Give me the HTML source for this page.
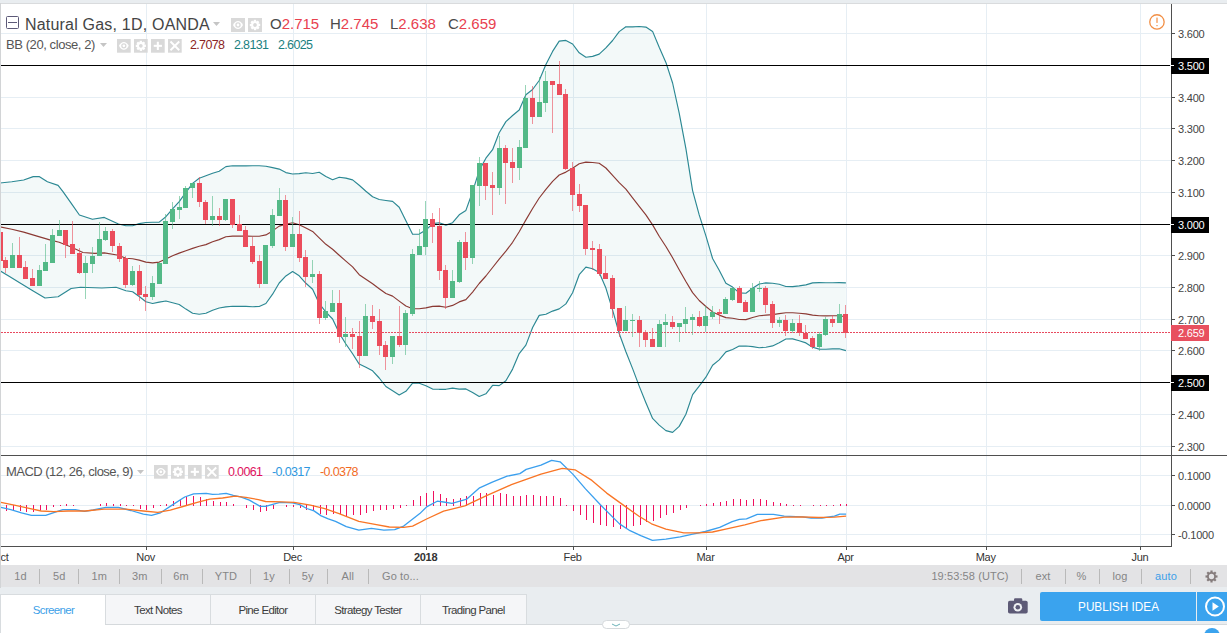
<!DOCTYPE html><html><head><meta charset="utf-8"><style>
*{margin:0;padding:0;box-sizing:border-box}
html,body{width:1227px;height:633px;overflow:hidden;background:#fff;font-family:"Liberation Sans",sans-serif}
.abs{position:absolute}
.pl{position:absolute;left:1178px;font-size:11px;letter-spacing:-0.2px;color:#444;line-height:12px;white-space:nowrap}
.tl{position:absolute;top:550.7px;letter-spacing:-0.3px;font-size:11px;color:#333;line-height:12px;white-space:nowrap;transform:translateX(-50%)}
.lg{position:absolute;white-space:nowrap;line-height:14px}
.ib{position:absolute;width:14px;height:14px;background:#dcdcdc;border-radius:1px}
.tb{position:absolute;top:568.7px;font-size:11px;letter-spacing:0.1px;color:#858585;line-height:14px;white-space:nowrap;transform:translateX(-50%)}
.sep{position:absolute;top:569px;width:1px;height:15px;background:#b9b9b9}
.tab{position:absolute;top:594px;height:30px;background:#f5f6f8;border:1px solid #d8dcdf;border-bottom:none;font-size:11.5px;letter-spacing:-0.1px;letter-spacing:-0.65px;color:#3c3c3c;text-align:center;line-height:30.5px}

</style></head><body>
<div class="abs" style="left:0;top:0;width:1227px;height:3px;background:#e9edf0"></div>
<div class="abs" style="left:0;top:3px;width:1227px;height:1px;background:#d9dbdd"></div>
<svg width="1227" height="566" viewBox="0 0 1227 566" style="position:absolute;left:0;top:0" shape-rendering="auto"><rect x="1" y="33" width="1170" height="1" fill="#e6eef4"/><rect x="1" y="65" width="1170" height="1" fill="#e6eef4"/><rect x="1" y="97" width="1170" height="1" fill="#e6eef4"/><rect x="1" y="128" width="1170" height="1" fill="#e6eef4"/><rect x="1" y="160" width="1170" height="1" fill="#e6eef4"/><rect x="1" y="192" width="1170" height="1" fill="#e6eef4"/><rect x="1" y="224" width="1170" height="1" fill="#e6eef4"/><rect x="1" y="255" width="1170" height="1" fill="#e6eef4"/><rect x="1" y="287" width="1170" height="1" fill="#e6eef4"/><rect x="1" y="319" width="1170" height="1" fill="#e6eef4"/><rect x="1" y="350" width="1170" height="1" fill="#e6eef4"/><rect x="1" y="382" width="1170" height="1" fill="#e6eef4"/><rect x="1" y="414" width="1170" height="1" fill="#e6eef4"/><rect x="1" y="446" width="1170" height="1" fill="#e6eef4"/><rect x="1" y="475" width="1170" height="1" fill="#e6eef4"/><rect x="1" y="505" width="1170" height="1" fill="#e6eef4"/><rect x="1" y="534" width="1170" height="1" fill="#e6eef4"/><rect x="146" y="4" width="1" height="542" fill="#e6eef4"/><rect x="293" y="4" width="1" height="542" fill="#e6eef4"/><rect x="426" y="4" width="1" height="542" fill="#e6eef4"/><rect x="573" y="4" width="1" height="542" fill="#e6eef4"/><rect x="706" y="4" width="1" height="542" fill="#e6eef4"/><rect x="846" y="4" width="1" height="542" fill="#e6eef4"/><rect x="986" y="4" width="1" height="542" fill="#e6eef4"/><rect x="1140" y="4" width="1" height="542" fill="#e6eef4"/><polygon points="0.0,183.0 11.8,181.8 23.7,180.0 33.2,176.6 39.1,176.6 47.4,181.8 58.1,185.4 62.8,191.3 71.1,203.2 79.4,215.0 92.4,219.3 104.3,217.4 118.5,224.0 125.9,225.7 132.6,225.7 139.2,223.6 145.9,222.5 152.6,222.3 159.2,222.1 165.9,216.7 172.6,208.8 179.2,201.6 185.9,192.3 192.6,183.4 199.2,178.3 205.9,175.8 212.6,173.2 219.2,171.2 225.9,166.6 232.6,165.8 239.2,165.8 245.9,165.8 252.6,165.7 259.2,165.8 265.9,166.2 272.6,167.6 279.2,169.1 285.9,172.6 292.6,174.0 299.2,173.6 305.9,172.7 312.6,173.5 319.2,172.3 325.9,176.4 332.6,179.7 339.2,177.2 345.9,178.1 352.6,179.9 359.2,185.3 365.9,191.2 372.6,196.8 379.2,199.5 385.9,200.5 392.6,201.4 399.2,207.2 405.9,220.7 412.6,234.3 419.2,234.1 425.9,230.1 432.6,223.6 439.2,222.8 445.9,225.1 452.6,222.7 459.2,214.8 465.9,210.4 472.6,191.7 479.2,170.6 485.9,158.2 492.6,149.7 499.2,132.7 505.9,121.6 512.6,115.5 519.2,110.0 525.9,94.7 532.6,89.5 539.2,80.5 545.9,64.5 552.6,51.4 559.2,41.1 565.9,40.4 572.6,44.0 579.2,52.8 585.9,57.2 592.6,56.4 599.2,54.1 605.9,47.9 612.6,40.5 619.2,31.6 625.9,26.7 632.6,26.9 639.2,26.5 645.9,27.1 652.6,31.4 659.2,47.3 665.9,62.4 672.6,83.0 679.2,113.1 685.9,148.7 692.6,190.6 699.2,214.9 705.9,235.9 712.6,258.5 719.2,270.2 725.9,283.2 732.6,287.1 739.2,292.9 745.9,293.2 752.6,288.3 759.2,284.0 765.9,282.9 772.6,283.3 779.2,284.3 785.9,286.5 792.6,286.6 799.2,285.9 805.9,284.9 812.6,282.9 819.2,282.6 825.9,282.7 832.6,282.7 839.2,282.6 845.9,282.9 845.9,350.6 839.2,348.8 832.6,348.9 825.9,349.2 819.2,349.1 812.6,347.3 805.9,342.9 799.2,340.7 792.6,338.9 785.9,339.0 779.2,342.8 772.6,345.9 765.9,347.2 759.2,347.7 752.6,346.6 745.9,346.0 739.2,346.1 732.6,349.5 725.9,351.9 719.2,359.9 712.6,365.2 705.9,377.2 699.2,386.1 692.6,394.6 685.9,414.3 679.2,426.4 672.6,432.4 665.9,430.6 659.2,425.1 652.6,418.4 645.9,402.7 639.2,386.1 632.6,368.6 625.9,351.7 619.2,333.5 612.6,310.1 605.9,288.1 599.2,272.6 592.6,268.7 585.9,267.1 579.2,274.7 572.6,292.7 565.9,303.9 559.2,308.9 552.6,311.1 545.9,314.2 539.2,315.4 532.6,327.5 525.9,345.1 519.2,353.6 512.6,369.1 505.9,380.8 499.2,385.6 492.6,385.3 485.9,393.8 479.2,396.5 472.6,392.4 465.9,388.9 459.2,389.1 452.6,388.1 445.9,389.3 439.2,389.3 432.6,389.1 425.9,385.7 419.2,383.2 412.6,383.1 405.9,391.3 399.2,395.0 392.6,390.8 385.9,386.5 379.2,378.0 372.6,370.8 365.9,367.3 359.2,364.1 352.6,353.8 345.9,344.0 339.2,333.1 332.6,319.0 325.9,312.2 319.2,303.5 312.6,289.3 305.9,283.3 299.2,275.8 292.6,271.6 285.9,275.9 279.2,283.0 272.6,294.2 265.9,303.5 259.2,306.5 252.6,306.7 245.9,306.4 239.2,306.3 232.6,306.3 225.9,306.9 219.2,308.0 212.6,310.2 205.9,313.3 199.2,314.2 192.6,313.3 185.9,309.1 179.2,304.5 172.6,302.8 165.9,301.0 159.2,302.1 152.6,303.5 145.9,301.8 139.2,296.5 132.6,291.7 125.9,290.7 116.1,287.3 101.9,288.0 80.6,287.3 71.1,288.5 58.1,296.8 45.0,298.0 33.2,290.9 21.3,283.7 9.5,276.6 0.0,270.7" fill="#198787" fill-opacity="0.05"/><polyline points="0.0,183.0 11.8,181.8 23.7,180.0 33.2,176.6 39.1,176.6 47.4,181.8 58.1,185.4 62.8,191.3 71.1,203.2 79.4,215.0 92.4,219.3 104.3,217.4 118.5,224.0 125.9,225.7 132.6,225.7 139.2,223.6 145.9,222.5 152.6,222.3 159.2,222.1 165.9,216.7 172.6,208.8 179.2,201.6 185.9,192.3 192.6,183.4 199.2,178.3 205.9,175.8 212.6,173.2 219.2,171.2 225.9,166.6 232.6,165.8 239.2,165.8 245.9,165.8 252.6,165.7 259.2,165.8 265.9,166.2 272.6,167.6 279.2,169.1 285.9,172.6 292.6,174.0 299.2,173.6 305.9,172.7 312.6,173.5 319.2,172.3 325.9,176.4 332.6,179.7 339.2,177.2 345.9,178.1 352.6,179.9 359.2,185.3 365.9,191.2 372.6,196.8 379.2,199.5 385.9,200.5 392.6,201.4 399.2,207.2 405.9,220.7 412.6,234.3 419.2,234.1 425.9,230.1 432.6,223.6 439.2,222.8 445.9,225.1 452.6,222.7 459.2,214.8 465.9,210.4 472.6,191.7 479.2,170.6 485.9,158.2 492.6,149.7 499.2,132.7 505.9,121.6 512.6,115.5 519.2,110.0 525.9,94.7 532.6,89.5 539.2,80.5 545.9,64.5 552.6,51.4 559.2,41.1 565.9,40.4 572.6,44.0 579.2,52.8 585.9,57.2 592.6,56.4 599.2,54.1 605.9,47.9 612.6,40.5 619.2,31.6 625.9,26.7 632.6,26.9 639.2,26.5 645.9,27.1 652.6,31.4 659.2,47.3 665.9,62.4 672.6,83.0 679.2,113.1 685.9,148.7 692.6,190.6 699.2,214.9 705.9,235.9 712.6,258.5 719.2,270.2 725.9,283.2 732.6,287.1 739.2,292.9 745.9,293.2 752.6,288.3 759.2,284.0 765.9,282.9 772.6,283.3 779.2,284.3 785.9,286.5 792.6,286.6 799.2,285.9 805.9,284.9 812.6,282.9 819.2,282.6 825.9,282.7 832.6,282.7 839.2,282.6 845.9,282.9" fill="none" stroke="#2b8893" stroke-width="1.15" stroke-linejoin="round"/><polyline points="0.0,270.7 9.5,276.6 21.3,283.7 33.2,290.9 45.0,298.0 58.1,296.8 71.1,288.5 80.6,287.3 101.9,288.0 116.1,287.3 125.9,290.7 132.6,291.7 139.2,296.5 145.9,301.8 152.6,303.5 159.2,302.1 165.9,301.0 172.6,302.8 179.2,304.5 185.9,309.1 192.6,313.3 199.2,314.2 205.9,313.3 212.6,310.2 219.2,308.0 225.9,306.9 232.6,306.3 239.2,306.3 245.9,306.4 252.6,306.7 259.2,306.5 265.9,303.5 272.6,294.2 279.2,283.0 285.9,275.9 292.6,271.6 299.2,275.8 305.9,283.3 312.6,289.3 319.2,303.5 325.9,312.2 332.6,319.0 339.2,333.1 345.9,344.0 352.6,353.8 359.2,364.1 365.9,367.3 372.6,370.8 379.2,378.0 385.9,386.5 392.6,390.8 399.2,395.0 405.9,391.3 412.6,383.1 419.2,383.2 425.9,385.7 432.6,389.1 439.2,389.3 445.9,389.3 452.6,388.1 459.2,389.1 465.9,388.9 472.6,392.4 479.2,396.5 485.9,393.8 492.6,385.3 499.2,385.6 505.9,380.8 512.6,369.1 519.2,353.6 525.9,345.1 532.6,327.5 539.2,315.4 545.9,314.2 552.6,311.1 559.2,308.9 565.9,303.9 572.6,292.7 579.2,274.7 585.9,267.1 592.6,268.7 599.2,272.6 605.9,288.1 612.6,310.1 619.2,333.5 625.9,351.7 632.6,368.6 639.2,386.1 645.9,402.7 652.6,418.4 659.2,425.1 665.9,430.6 672.6,432.4 679.2,426.4 685.9,414.3 692.6,394.6 699.2,386.1 705.9,377.2 712.6,365.2 719.2,359.9 725.9,351.9 732.6,349.5 739.2,346.1 745.9,346.0 752.6,346.6 759.2,347.7 765.9,347.2 772.6,345.9 779.2,342.8 785.9,339.0 792.6,338.9 799.2,340.7 805.9,342.9 812.6,347.3 819.2,349.1 825.9,349.2 832.6,348.9 839.2,348.8 845.9,350.6" fill="none" stroke="#2b8893" stroke-width="1.15" stroke-linejoin="round"/><polyline points="0.0,226.9 11.8,229.2 23.7,232.1 37.9,236.4 49.8,239.9 59.2,242.3 71.1,247.0 82.9,252.5 94.8,253.4 104.3,252.9 118.5,255.3 125.9,258.2 132.6,258.7 139.2,260.1 145.9,262.1 152.6,262.9 159.2,262.1 165.9,258.9 172.6,255.8 179.2,253.1 185.9,250.7 192.6,248.4 199.2,246.2 205.9,244.6 212.6,241.7 219.2,239.6 225.9,236.8 232.6,236.1 239.2,236.1 245.9,236.1 252.6,236.2 259.2,236.2 265.9,234.9 272.6,230.9 279.2,226.1 285.9,224.3 292.6,222.8 299.2,224.7 305.9,228.0 312.6,231.4 319.2,237.9 325.9,244.3 332.6,249.3 339.2,255.2 345.9,261.1 352.6,266.9 359.2,274.7 365.9,279.2 372.6,283.8 379.2,288.7 385.9,293.5 392.6,296.1 399.2,301.1 405.9,306.0 412.6,308.7 419.2,308.7 425.9,307.9 432.6,306.4 439.2,306.1 445.9,307.2 452.6,305.4 459.2,301.9 465.9,299.6 472.6,292.1 479.2,283.5 485.9,276.0 492.6,267.5 499.2,259.1 505.9,251.2 512.6,242.3 519.2,231.8 525.9,219.9 532.6,208.5 539.2,198.0 545.9,189.3 552.6,181.3 559.2,175.0 565.9,172.1 572.6,168.3 579.2,163.7 585.9,162.1 592.6,162.5 599.2,163.3 605.9,168.0 612.6,175.3 619.2,182.6 625.9,189.2 632.6,197.8 639.2,206.3 645.9,214.9 652.6,224.9 659.2,236.2 665.9,246.5 672.6,257.7 679.2,269.8 685.9,281.5 692.6,292.6 699.2,300.5 705.9,306.5 712.6,311.9 719.2,315.1 725.9,317.6 732.6,318.3 739.2,319.5 745.9,319.6 752.6,317.5 759.2,315.8 765.9,315.1 772.6,314.6 779.2,313.6 785.9,312.8 792.6,312.7 799.2,313.3 805.9,313.9 812.6,315.1 819.2,315.8 825.9,315.9 832.6,315.8 839.2,315.7 845.9,316.7" fill="none" stroke="#8b3a34" stroke-width="1.15" stroke-linejoin="round"/><rect x="1" y="65" width="1169" height="1" fill="#000"/><rect x="1" y="224" width="1169" height="1" fill="#000"/><rect x="1" y="382" width="1169" height="1" fill="#000"/><line x1="1" y1="332.5" x2="1171" y2="332.5" stroke="#e84a5f" stroke-width="1" stroke-dasharray="2,1"/><rect x="0" y="232" width="1" height="29" fill="#eb4d5c" opacity="0.6"/><rect x="-2" y="232" width="5" height="29" fill="#eb4d5c"/><rect x="5" y="257" width="1" height="16" fill="#eb4d5c" opacity="0.6"/><rect x="3" y="260" width="5" height="8" fill="#eb4d5c"/><rect x="12" y="243" width="1" height="25" fill="#53b987" opacity="0.6"/><rect x="10" y="255" width="5" height="13" fill="#53b987"/><rect x="19" y="237" width="1" height="31" fill="#eb4d5c" opacity="0.6"/><rect x="17" y="255" width="5" height="13" fill="#eb4d5c"/><rect x="25" y="261" width="1" height="18" fill="#eb4d5c" opacity="0.6"/><rect x="23" y="267" width="5" height="12" fill="#eb4d5c"/><rect x="32" y="269" width="1" height="17" fill="#eb4d5c" opacity="0.6"/><rect x="30" y="278" width="5" height="8" fill="#eb4d5c"/><rect x="39" y="265" width="1" height="21" fill="#53b987" opacity="0.6"/><rect x="37" y="270" width="5" height="16" fill="#53b987"/><rect x="45" y="244" width="1" height="27" fill="#53b987" opacity="0.6"/><rect x="43" y="262" width="5" height="9" fill="#53b987"/><rect x="52" y="229" width="1" height="34" fill="#53b987" opacity="0.6"/><rect x="50" y="235" width="5" height="28" fill="#53b987"/><rect x="59" y="220" width="1" height="16" fill="#53b987" opacity="0.6"/><rect x="57" y="230" width="5" height="6" fill="#53b987"/><rect x="65" y="230" width="1" height="28" fill="#eb4d5c" opacity="0.6"/><rect x="63" y="230" width="5" height="15" fill="#eb4d5c"/><rect x="72" y="221" width="1" height="33" fill="#eb4d5c" opacity="0.6"/><rect x="70" y="244" width="5" height="10" fill="#eb4d5c"/><rect x="79" y="248" width="1" height="26" fill="#eb4d5c" opacity="0.6"/><rect x="77" y="253" width="5" height="20" fill="#eb4d5c"/><rect x="85" y="256" width="1" height="43" fill="#53b987" opacity="0.6"/><rect x="83" y="263" width="5" height="10" fill="#53b987"/><rect x="92" y="247" width="1" height="26" fill="#53b987" opacity="0.6"/><rect x="90" y="256" width="5" height="8" fill="#53b987"/><rect x="99" y="222" width="1" height="34" fill="#53b987" opacity="0.6"/><rect x="97" y="239" width="5" height="17" fill="#53b987"/><rect x="105" y="227" width="1" height="14" fill="#53b987" opacity="0.6"/><rect x="103" y="231" width="5" height="9" fill="#53b987"/><rect x="112" y="229" width="1" height="23" fill="#eb4d5c" opacity="0.6"/><rect x="110" y="231" width="5" height="15" fill="#eb4d5c"/><rect x="119" y="243" width="1" height="19" fill="#eb4d5c" opacity="0.6"/><rect x="117" y="246" width="5" height="13" fill="#eb4d5c"/><rect x="125" y="256" width="1" height="32" fill="#eb4d5c" opacity="0.6"/><rect x="123" y="258" width="5" height="27" fill="#eb4d5c"/><rect x="132" y="266" width="1" height="20" fill="#53b987" opacity="0.6"/><rect x="130" y="271" width="5" height="14" fill="#53b987"/><rect x="139" y="265" width="1" height="36" fill="#eb4d5c" opacity="0.6"/><rect x="137" y="271" width="5" height="24" fill="#eb4d5c"/><rect x="145" y="286" width="1" height="25" fill="#eb4d5c" opacity="0.6"/><rect x="143" y="294" width="5" height="3" fill="#eb4d5c"/><rect x="152" y="276" width="1" height="24" fill="#53b987" opacity="0.6"/><rect x="150" y="283" width="5" height="14" fill="#53b987"/><rect x="159" y="262" width="1" height="22" fill="#53b987" opacity="0.6"/><rect x="157" y="263" width="5" height="21" fill="#53b987"/><rect x="165" y="214" width="1" height="50" fill="#53b987" opacity="0.6"/><rect x="163" y="221" width="5" height="43" fill="#53b987"/><rect x="172" y="202" width="1" height="27" fill="#53b987" opacity="0.6"/><rect x="170" y="209" width="5" height="13" fill="#53b987"/><rect x="179" y="196" width="1" height="23" fill="#53b987" opacity="0.6"/><rect x="177" y="207" width="5" height="3" fill="#53b987"/><rect x="185" y="186" width="1" height="22" fill="#53b987" opacity="0.6"/><rect x="183" y="188" width="5" height="20" fill="#53b987"/><rect x="192" y="183" width="1" height="15" fill="#53b987" opacity="0.6"/><rect x="190" y="183" width="5" height="5" fill="#53b987"/><rect x="199" y="177" width="1" height="30" fill="#eb4d5c" opacity="0.6"/><rect x="197" y="183" width="5" height="19" fill="#eb4d5c"/><rect x="205" y="200" width="1" height="24" fill="#eb4d5c" opacity="0.6"/><rect x="203" y="202" width="5" height="18" fill="#eb4d5c"/><rect x="212" y="196" width="1" height="30" fill="#53b987" opacity="0.6"/><rect x="210" y="216" width="5" height="4" fill="#53b987"/><rect x="219" y="208" width="1" height="18" fill="#eb4d5c" opacity="0.6"/><rect x="217" y="216" width="5" height="4" fill="#eb4d5c"/><rect x="225" y="199" width="1" height="22" fill="#53b987" opacity="0.6"/><rect x="223" y="199" width="5" height="21" fill="#53b987"/><rect x="232" y="199" width="1" height="29" fill="#eb4d5c" opacity="0.6"/><rect x="230" y="199" width="5" height="26" fill="#eb4d5c"/><rect x="239" y="215" width="1" height="16" fill="#eb4d5c" opacity="0.6"/><rect x="237" y="224" width="5" height="7" fill="#eb4d5c"/><rect x="245" y="226" width="1" height="21" fill="#eb4d5c" opacity="0.6"/><rect x="243" y="230" width="5" height="17" fill="#eb4d5c"/><rect x="252" y="237" width="1" height="27" fill="#eb4d5c" opacity="0.6"/><rect x="250" y="246" width="5" height="16" fill="#eb4d5c"/><rect x="259" y="255" width="1" height="33" fill="#eb4d5c" opacity="0.6"/><rect x="257" y="261" width="5" height="23" fill="#eb4d5c"/><rect x="265" y="245" width="1" height="39" fill="#53b987" opacity="0.6"/><rect x="263" y="245" width="5" height="39" fill="#53b987"/><rect x="272" y="209" width="1" height="39" fill="#53b987" opacity="0.6"/><rect x="270" y="215" width="5" height="31" fill="#53b987"/><rect x="279" y="188" width="1" height="28" fill="#53b987" opacity="0.6"/><rect x="277" y="200" width="5" height="16" fill="#53b987"/><rect x="285" y="195" width="1" height="56" fill="#eb4d5c" opacity="0.6"/><rect x="283" y="200" width="5" height="47" fill="#eb4d5c"/><rect x="292" y="217" width="1" height="30" fill="#53b987" opacity="0.6"/><rect x="290" y="234" width="5" height="13" fill="#53b987"/><rect x="299" y="211" width="1" height="51" fill="#eb4d5c" opacity="0.6"/><rect x="297" y="234" width="5" height="24" fill="#eb4d5c"/><rect x="305" y="250" width="1" height="37" fill="#eb4d5c" opacity="0.6"/><rect x="303" y="257" width="5" height="20" fill="#eb4d5c"/><rect x="312" y="260" width="1" height="23" fill="#53b987" opacity="0.6"/><rect x="310" y="274" width="5" height="3" fill="#53b987"/><rect x="319" y="271" width="1" height="53" fill="#eb4d5c" opacity="0.6"/><rect x="317" y="274" width="5" height="44" fill="#eb4d5c"/><rect x="325" y="301" width="1" height="19" fill="#53b987" opacity="0.6"/><rect x="323" y="311" width="5" height="7" fill="#53b987"/><rect x="332" y="290" width="1" height="22" fill="#53b987" opacity="0.6"/><rect x="330" y="303" width="5" height="9" fill="#53b987"/><rect x="339" y="290" width="1" height="53" fill="#eb4d5c" opacity="0.6"/><rect x="337" y="303" width="5" height="34" fill="#eb4d5c"/><rect x="345" y="317" width="1" height="30" fill="#53b987" opacity="0.6"/><rect x="343" y="334" width="5" height="3" fill="#53b987"/><rect x="352" y="328" width="1" height="21" fill="#eb4d5c" opacity="0.6"/><rect x="350" y="334" width="5" height="3" fill="#eb4d5c"/><rect x="359" y="321" width="1" height="47" fill="#eb4d5c" opacity="0.6"/><rect x="357" y="336" width="5" height="20" fill="#eb4d5c"/><rect x="365" y="304" width="1" height="52" fill="#53b987" opacity="0.6"/><rect x="363" y="316" width="5" height="40" fill="#53b987"/><rect x="372" y="305" width="1" height="24" fill="#eb4d5c" opacity="0.6"/><rect x="370" y="316" width="5" height="6" fill="#eb4d5c"/><rect x="379" y="309" width="1" height="46" fill="#eb4d5c" opacity="0.6"/><rect x="377" y="321" width="5" height="25" fill="#eb4d5c"/><rect x="385" y="341" width="1" height="29" fill="#eb4d5c" opacity="0.6"/><rect x="383" y="345" width="5" height="12" fill="#eb4d5c"/><rect x="392" y="336" width="1" height="28" fill="#53b987" opacity="0.6"/><rect x="390" y="336" width="5" height="21" fill="#53b987"/><rect x="399" y="306" width="1" height="41" fill="#eb4d5c" opacity="0.6"/><rect x="397" y="336" width="5" height="9" fill="#eb4d5c"/><rect x="405" y="310" width="1" height="45" fill="#53b987" opacity="0.6"/><rect x="403" y="313" width="5" height="32" fill="#53b987"/><rect x="412" y="249" width="1" height="67" fill="#53b987" opacity="0.6"/><rect x="410" y="254" width="5" height="60" fill="#53b987"/><rect x="419" y="229" width="1" height="26" fill="#53b987" opacity="0.6"/><rect x="417" y="246" width="5" height="9" fill="#53b987"/><rect x="425" y="201" width="1" height="54" fill="#53b987" opacity="0.6"/><rect x="423" y="219" width="5" height="28" fill="#53b987"/><rect x="432" y="213" width="1" height="30" fill="#eb4d5c" opacity="0.6"/><rect x="430" y="219" width="5" height="8" fill="#eb4d5c"/><rect x="439" y="208" width="1" height="72" fill="#eb4d5c" opacity="0.6"/><rect x="437" y="226" width="5" height="45" fill="#eb4d5c"/><rect x="445" y="265" width="1" height="44" fill="#eb4d5c" opacity="0.6"/><rect x="443" y="270" width="5" height="28" fill="#eb4d5c"/><rect x="452" y="270" width="1" height="28" fill="#53b987" opacity="0.6"/><rect x="450" y="281" width="5" height="17" fill="#53b987"/><rect x="459" y="240" width="1" height="43" fill="#53b987" opacity="0.6"/><rect x="457" y="242" width="5" height="40" fill="#53b987"/><rect x="465" y="232" width="1" height="38" fill="#eb4d5c" opacity="0.6"/><rect x="463" y="242" width="5" height="16" fill="#eb4d5c"/><rect x="472" y="185" width="1" height="79" fill="#53b987" opacity="0.6"/><rect x="470" y="185" width="5" height="73" fill="#53b987"/><rect x="479" y="157" width="1" height="49" fill="#53b987" opacity="0.6"/><rect x="477" y="163" width="5" height="23" fill="#53b987"/><rect x="485" y="163" width="1" height="37" fill="#eb4d5c" opacity="0.6"/><rect x="483" y="163" width="5" height="23" fill="#eb4d5c"/><rect x="492" y="172" width="1" height="43" fill="#eb4d5c" opacity="0.6"/><rect x="490" y="185" width="5" height="3" fill="#eb4d5c"/><rect x="499" y="136" width="1" height="59" fill="#53b987" opacity="0.6"/><rect x="497" y="148" width="5" height="40" fill="#53b987"/><rect x="505" y="145" width="1" height="59" fill="#eb4d5c" opacity="0.6"/><rect x="503" y="148" width="5" height="15" fill="#eb4d5c"/><rect x="512" y="148" width="1" height="35" fill="#eb4d5c" opacity="0.6"/><rect x="510" y="162" width="5" height="6" fill="#eb4d5c"/><rect x="519" y="140" width="1" height="40" fill="#53b987" opacity="0.6"/><rect x="517" y="147" width="5" height="21" fill="#53b987"/><rect x="525" y="85" width="1" height="63" fill="#53b987" opacity="0.6"/><rect x="523" y="98" width="5" height="50" fill="#53b987"/><rect x="532" y="86" width="1" height="38" fill="#eb4d5c" opacity="0.6"/><rect x="530" y="98" width="5" height="19" fill="#eb4d5c"/><rect x="539" y="77" width="1" height="40" fill="#53b987" opacity="0.6"/><rect x="537" y="102" width="5" height="15" fill="#53b987"/><rect x="545" y="71" width="1" height="41" fill="#53b987" opacity="0.6"/><rect x="543" y="81" width="5" height="22" fill="#53b987"/><rect x="552" y="81" width="1" height="52" fill="#eb4d5c" opacity="0.6"/><rect x="550" y="81" width="5" height="4" fill="#eb4d5c"/><rect x="559" y="61" width="1" height="34" fill="#eb4d5c" opacity="0.6"/><rect x="557" y="84" width="5" height="11" fill="#eb4d5c"/><rect x="565" y="89" width="1" height="81" fill="#eb4d5c" opacity="0.6"/><rect x="563" y="94" width="5" height="75" fill="#eb4d5c"/><rect x="572" y="162" width="1" height="49" fill="#eb4d5c" opacity="0.6"/><rect x="570" y="168" width="5" height="27" fill="#eb4d5c"/><rect x="579" y="184" width="1" height="28" fill="#eb4d5c" opacity="0.6"/><rect x="577" y="194" width="5" height="12" fill="#eb4d5c"/><rect x="585" y="205" width="1" height="50" fill="#eb4d5c" opacity="0.6"/><rect x="583" y="205" width="5" height="44" fill="#eb4d5c"/><rect x="592" y="241" width="1" height="29" fill="#eb4d5c" opacity="0.6"/><rect x="590" y="248" width="5" height="2" fill="#eb4d5c"/><rect x="599" y="244" width="1" height="32" fill="#eb4d5c" opacity="0.6"/><rect x="597" y="249" width="5" height="25" fill="#eb4d5c"/><rect x="605" y="256" width="1" height="23" fill="#eb4d5c" opacity="0.6"/><rect x="603" y="273" width="5" height="6" fill="#eb4d5c"/><rect x="612" y="275" width="1" height="43" fill="#eb4d5c" opacity="0.6"/><rect x="610" y="278" width="5" height="31" fill="#eb4d5c"/><rect x="619" y="308" width="1" height="29" fill="#eb4d5c" opacity="0.6"/><rect x="617" y="308" width="5" height="23" fill="#eb4d5c"/><rect x="625" y="306" width="1" height="25" fill="#53b987" opacity="0.6"/><rect x="623" y="320" width="5" height="11" fill="#53b987"/><rect x="632" y="314" width="1" height="23" fill="#53b987" opacity="0.6"/><rect x="630" y="320" width="5" height="1" fill="#53b987"/><rect x="639" y="316" width="1" height="31" fill="#eb4d5c" opacity="0.6"/><rect x="637" y="320" width="5" height="13" fill="#eb4d5c"/><rect x="645" y="330" width="1" height="17" fill="#eb4d5c" opacity="0.6"/><rect x="643" y="332" width="5" height="8" fill="#eb4d5c"/><rect x="652" y="328" width="1" height="19" fill="#eb4d5c" opacity="0.6"/><rect x="650" y="339" width="5" height="8" fill="#eb4d5c"/><rect x="659" y="320" width="1" height="27" fill="#53b987" opacity="0.6"/><rect x="657" y="324" width="5" height="23" fill="#53b987"/><rect x="665" y="314" width="1" height="33" fill="#53b987" opacity="0.6"/><rect x="663" y="322" width="5" height="3" fill="#53b987"/><rect x="672" y="316" width="1" height="13" fill="#eb4d5c" opacity="0.6"/><rect x="670" y="322" width="5" height="5" fill="#eb4d5c"/><rect x="679" y="323" width="1" height="19" fill="#53b987" opacity="0.6"/><rect x="677" y="323" width="5" height="4" fill="#53b987"/><rect x="685" y="307" width="1" height="25" fill="#53b987" opacity="0.6"/><rect x="683" y="319" width="5" height="5" fill="#53b987"/><rect x="692" y="314" width="1" height="21" fill="#53b987" opacity="0.6"/><rect x="690" y="317" width="5" height="3" fill="#53b987"/><rect x="699" y="311" width="1" height="16" fill="#eb4d5c" opacity="0.6"/><rect x="697" y="317" width="5" height="9" fill="#eb4d5c"/><rect x="705" y="306" width="1" height="26" fill="#53b987" opacity="0.6"/><rect x="703" y="316" width="5" height="10" fill="#53b987"/><rect x="712" y="306" width="1" height="13" fill="#53b987" opacity="0.6"/><rect x="710" y="312" width="5" height="5" fill="#53b987"/><rect x="719" y="309" width="1" height="15" fill="#eb4d5c" opacity="0.6"/><rect x="717" y="312" width="5" height="2" fill="#eb4d5c"/><rect x="725" y="297" width="1" height="17" fill="#53b987" opacity="0.6"/><rect x="723" y="299" width="5" height="15" fill="#53b987"/><rect x="732" y="288" width="1" height="13" fill="#53b987" opacity="0.6"/><rect x="730" y="288" width="5" height="12" fill="#53b987"/><rect x="739" y="286" width="1" height="17" fill="#eb4d5c" opacity="0.6"/><rect x="737" y="288" width="5" height="15" fill="#eb4d5c"/><rect x="745" y="300" width="1" height="12" fill="#eb4d5c" opacity="0.6"/><rect x="743" y="302" width="5" height="10" fill="#eb4d5c"/><rect x="752" y="283" width="1" height="29" fill="#53b987" opacity="0.6"/><rect x="750" y="288" width="5" height="24" fill="#53b987"/><rect x="759" y="281" width="1" height="11" fill="#53b987" opacity="0.6"/><rect x="757" y="288" width="5" height="1" fill="#53b987"/><rect x="765" y="286" width="1" height="27" fill="#eb4d5c" opacity="0.6"/><rect x="763" y="288" width="5" height="17" fill="#eb4d5c"/><rect x="772" y="301" width="1" height="27" fill="#eb4d5c" opacity="0.6"/><rect x="770" y="304" width="5" height="19" fill="#eb4d5c"/><rect x="779" y="317" width="1" height="10" fill="#53b987" opacity="0.6"/><rect x="777" y="320" width="5" height="3" fill="#53b987"/><rect x="785" y="315" width="1" height="21" fill="#eb4d5c" opacity="0.6"/><rect x="783" y="320" width="5" height="11" fill="#eb4d5c"/><rect x="792" y="319" width="1" height="14" fill="#53b987" opacity="0.6"/><rect x="790" y="323" width="5" height="8" fill="#53b987"/><rect x="799" y="315" width="1" height="21" fill="#eb4d5c" opacity="0.6"/><rect x="797" y="323" width="5" height="10" fill="#eb4d5c"/><rect x="805" y="325" width="1" height="14" fill="#eb4d5c" opacity="0.6"/><rect x="803" y="333" width="5" height="6" fill="#eb4d5c"/><rect x="812" y="336" width="1" height="13" fill="#eb4d5c" opacity="0.6"/><rect x="810" y="338" width="5" height="9" fill="#eb4d5c"/><rect x="819" y="332" width="1" height="19" fill="#53b987" opacity="0.6"/><rect x="817" y="334" width="5" height="13" fill="#53b987"/><rect x="825" y="317" width="1" height="19" fill="#53b987" opacity="0.6"/><rect x="823" y="319" width="5" height="16" fill="#53b987"/><rect x="832" y="315" width="1" height="12" fill="#eb4d5c" opacity="0.6"/><rect x="830" y="319" width="5" height="4" fill="#eb4d5c"/><rect x="839" y="304" width="1" height="19" fill="#53b987" opacity="0.6"/><rect x="837" y="314" width="5" height="9" fill="#53b987"/><rect x="845" y="305" width="1" height="33" fill="#eb4d5c" opacity="0.6"/><rect x="843" y="314" width="5" height="19" fill="#eb4d5c"/><rect x="6" y="505" width="1" height="6" fill="#f0105f"/><rect x="13" y="505" width="1" height="6" fill="#f0105f"/><rect x="20" y="505" width="1" height="6" fill="#f0105f"/><rect x="26" y="505" width="1" height="7" fill="#f0105f"/><rect x="33" y="505" width="1" height="7" fill="#f0105f"/><rect x="40" y="505" width="1" height="5" fill="#f0105f"/><rect x="46" y="505" width="1" height="5" fill="#f0105f"/><rect x="53" y="505" width="1" height="2" fill="#f0105f"/><rect x="60" y="505" width="1" height="1" fill="#f0105f"/><rect x="66" y="504" width="1" height="2" fill="#f0105f"/><rect x="73" y="505" width="1" height="1" fill="#f0105f"/><rect x="100" y="504" width="1" height="2" fill="#f0105f"/><rect x="106" y="503" width="1" height="3" fill="#f0105f"/><rect x="113" y="504" width="1" height="2" fill="#f0105f"/><rect x="120" y="504" width="1" height="2" fill="#f0105f"/><rect x="126" y="505" width="1" height="1" fill="#f0105f"/><rect x="133" y="505" width="1" height="1" fill="#f0105f"/><rect x="140" y="505" width="1" height="4" fill="#f0105f"/><rect x="146" y="505" width="1" height="5" fill="#f0105f"/><rect x="153" y="505" width="1" height="3" fill="#f0105f"/><rect x="160" y="505" width="1" height="1" fill="#f0105f"/><rect x="166" y="504" width="1" height="2" fill="#f0105f"/><rect x="173" y="501" width="1" height="5" fill="#f0105f"/><rect x="180" y="499" width="1" height="7" fill="#f0105f"/><rect x="186" y="497" width="1" height="9" fill="#f0105f"/><rect x="193" y="496" width="1" height="10" fill="#f0105f"/><rect x="200" y="497" width="1" height="9" fill="#f0105f"/><rect x="206" y="499" width="1" height="7" fill="#f0105f"/><rect x="213" y="501" width="1" height="5" fill="#f0105f"/><rect x="220" y="502" width="1" height="4" fill="#f0105f"/><rect x="226" y="502" width="1" height="4" fill="#f0105f"/><rect x="233" y="504" width="1" height="2" fill="#f0105f"/><rect x="246" y="505" width="1" height="3" fill="#f0105f"/><rect x="253" y="505" width="1" height="5" fill="#f0105f"/><rect x="260" y="505" width="1" height="7" fill="#f0105f"/><rect x="266" y="505" width="1" height="6" fill="#f0105f"/><rect x="273" y="505" width="1" height="4" fill="#f0105f"/><rect x="286" y="505" width="1" height="2" fill="#f0105f"/><rect x="293" y="505" width="1" height="2" fill="#f0105f"/><rect x="300" y="505" width="1" height="3" fill="#f0105f"/><rect x="306" y="505" width="1" height="5" fill="#f0105f"/><rect x="313" y="505" width="1" height="5" fill="#f0105f"/><rect x="320" y="505" width="1" height="9" fill="#f0105f"/><rect x="326" y="505" width="1" height="10" fill="#f0105f"/><rect x="333" y="505" width="1" height="9" fill="#f0105f"/><rect x="340" y="505" width="1" height="9" fill="#f0105f"/><rect x="346" y="505" width="1" height="11" fill="#f0105f"/><rect x="353" y="505" width="1" height="10" fill="#f0105f"/><rect x="360" y="505" width="1" height="10" fill="#f0105f"/><rect x="366" y="505" width="1" height="8" fill="#f0105f"/><rect x="373" y="505" width="1" height="6" fill="#f0105f"/><rect x="380" y="505" width="1" height="5" fill="#f0105f"/><rect x="386" y="505" width="1" height="5" fill="#f0105f"/><rect x="393" y="505" width="1" height="4" fill="#f0105f"/><rect x="400" y="505" width="1" height="3" fill="#f0105f"/><rect x="406" y="505" width="1" height="1" fill="#f0105f"/><rect x="413" y="500" width="1" height="6" fill="#f0105f"/><rect x="420" y="496" width="1" height="10" fill="#f0105f"/><rect x="426" y="493" width="1" height="13" fill="#f0105f"/><rect x="433" y="491" width="1" height="15" fill="#f0105f"/><rect x="440" y="494" width="1" height="12" fill="#f0105f"/><rect x="446" y="498" width="1" height="8" fill="#f0105f"/><rect x="453" y="499" width="1" height="7" fill="#f0105f"/><rect x="460" y="498" width="1" height="8" fill="#f0105f"/><rect x="466" y="496" width="1" height="10" fill="#f0105f"/><rect x="473" y="496" width="1" height="10" fill="#f0105f"/><rect x="480" y="493" width="1" height="13" fill="#f0105f"/><rect x="486" y="493" width="1" height="13" fill="#f0105f"/><rect x="493" y="495" width="1" height="11" fill="#f0105f"/><rect x="500" y="493" width="1" height="13" fill="#f0105f"/><rect x="506" y="494" width="1" height="12" fill="#f0105f"/><rect x="513" y="496" width="1" height="10" fill="#f0105f"/><rect x="520" y="496" width="1" height="10" fill="#f0105f"/><rect x="526" y="495" width="1" height="11" fill="#f0105f"/><rect x="533" y="495" width="1" height="11" fill="#f0105f"/><rect x="540" y="496" width="1" height="10" fill="#f0105f"/><rect x="546" y="496" width="1" height="10" fill="#f0105f"/><rect x="553" y="496" width="1" height="10" fill="#f0105f"/><rect x="560" y="498" width="1" height="8" fill="#f0105f"/><rect x="566" y="505" width="1" height="1" fill="#f0105f"/><rect x="573" y="505" width="1" height="6" fill="#f0105f"/><rect x="580" y="505" width="1" height="10" fill="#f0105f"/><rect x="586" y="505" width="1" height="15" fill="#f0105f"/><rect x="593" y="505" width="1" height="18" fill="#f0105f"/><rect x="600" y="505" width="1" height="20" fill="#f0105f"/><rect x="606" y="505" width="1" height="21" fill="#f0105f"/><rect x="613" y="505" width="1" height="22" fill="#f0105f"/><rect x="620" y="505" width="1" height="24" fill="#f0105f"/><rect x="626" y="505" width="1" height="23" fill="#f0105f"/><rect x="633" y="505" width="1" height="21" fill="#f0105f"/><rect x="640" y="505" width="1" height="20" fill="#f0105f"/><rect x="646" y="505" width="1" height="17" fill="#f0105f"/><rect x="653" y="505" width="1" height="16" fill="#f0105f"/><rect x="660" y="505" width="1" height="13" fill="#f0105f"/><rect x="666" y="505" width="1" height="10" fill="#f0105f"/><rect x="673" y="505" width="1" height="8" fill="#f0105f"/><rect x="680" y="505" width="1" height="5" fill="#f0105f"/><rect x="686" y="505" width="1" height="3" fill="#f0105f"/><rect x="700" y="505" width="1" height="1" fill="#f0105f"/><rect x="706" y="504" width="1" height="2" fill="#f0105f"/><rect x="713" y="503" width="1" height="3" fill="#f0105f"/><rect x="720" y="502" width="1" height="4" fill="#f0105f"/><rect x="726" y="501" width="1" height="5" fill="#f0105f"/><rect x="733" y="499" width="1" height="7" fill="#f0105f"/><rect x="740" y="499" width="1" height="7" fill="#f0105f"/><rect x="746" y="500" width="1" height="6" fill="#f0105f"/><rect x="753" y="499" width="1" height="7" fill="#f0105f"/><rect x="760" y="499" width="1" height="7" fill="#f0105f"/><rect x="766" y="500" width="1" height="6" fill="#f0105f"/><rect x="773" y="502" width="1" height="4" fill="#f0105f"/><rect x="780" y="503" width="1" height="3" fill="#f0105f"/><rect x="786" y="504" width="1" height="2" fill="#f0105f"/><rect x="793" y="505" width="1" height="1" fill="#f0105f"/><rect x="800" y="505" width="1" height="1" fill="#f0105f"/><rect x="813" y="505" width="1" height="1" fill="#f0105f"/><rect x="820" y="505" width="1" height="1" fill="#f0105f"/><rect x="826" y="505" width="1" height="1" fill="#f0105f"/><rect x="833" y="505" width="1" height="1" fill="#f0105f"/><rect x="840" y="504" width="1" height="2" fill="#f0105f"/><rect x="846" y="504" width="1" height="2" fill="#f0105f"/><polyline points="0.9,507.3 10.8,509.6 21.5,512.8 31.4,515.3 45.7,515.3 53.8,512.6 62.8,509.6 75.3,509.6 84.3,511.4 93.2,510.0 105.8,507.3 118.3,507.4 130.9,510.5 143.4,514.1 151.5,515.3 160.5,512.8 172.1,505.1 184.7,497.0 193.6,493.8 206.2,493.4 212.5,494.3 219.0,494.2 226.1,493.3 233.3,495.3 240.5,496.9 249.4,500.1 260.2,506.4 265.6,506.4 279.9,502.4 292.5,502.8 299.7,504.6 306.8,508.5 314.0,510.9 321.2,515.9 328.3,518.9 335.5,521.3 346.3,526.6 358.8,530.2 371.4,528.4 383.9,530.2 394.7,529.7 403.7,526.1 419.8,513.6 426.6,506.9 437.2,501.2 443.6,502.0 452.0,503.3 466.9,499.1 479.6,487.8 492.3,482.1 507.1,476.2 519.9,473.6 526.2,469.4 541.0,465.2 551.6,460.3 560.1,461.8 572.8,474.1 585.5,488.9 600.4,504.8 619.5,523.9 630.0,530.7 640.8,535.6 652.4,540.4 665.9,539.2 680.2,536.9 692.8,534.2 705.3,531.5 719.7,527.4 732.2,521.6 739.4,519.3 746.5,518.9 757.3,514.4 773.4,514.4 784.2,516.2 802.1,516.8 811.1,518.0 821.9,518.0 834.4,516.2 839.8,514.1 846.1,514.1" fill="none" stroke="#3a9fee" stroke-width="1.3" stroke-linejoin="round"/><polyline points="0.9,502.4 14.3,505.1 26.9,507.8 41.2,511.0 53.8,511.7 68.1,511.0 85.2,511.0 104.0,509.2 125.5,509.2 143.4,511.0 157.8,512.3 170.3,510.1 184.7,506.0 197.2,502.4 209.8,499.2 222.6,498.0 235.1,496.2 245.9,497.4 258.4,499.6 265.6,501.5 281.7,501.9 294.3,502.4 310.4,505.1 324.8,508.7 339.1,513.6 358.8,521.3 375.0,524.3 389.3,527.0 403.7,527.4 412.6,526.1 426.6,519.0 443.6,511.2 464.8,505.9 486.0,495.9 511.4,484.7 541.0,474.1 562.2,468.4 575.0,469.8 591.9,480.4 606.7,493.1 625.8,506.9 639.0,516.2 651.5,523.8 665.9,529.2 683.8,532.9 698.1,532.9 712.5,532.0 726.8,528.8 744.8,524.8 760.9,520.7 784.2,517.1 802.1,516.8 818.3,517.5 834.4,517.1 846.1,516.2" fill="none" stroke="#f97525" stroke-width="1.3" stroke-linejoin="round"/><rect x="0" y="455" width="1227" height="1" fill="#4f4f4f"/><rect x="1171" y="4" width="1" height="543" fill="#4f4f4f"/><rect x="0" y="546" width="1172" height="1" fill="#4f4f4f"/><rect x="1172" y="33" width="3" height="1" fill="#4f4f4f"/><rect x="1172" y="65" width="3" height="1" fill="#4f4f4f"/><rect x="1172" y="97" width="3" height="1" fill="#4f4f4f"/><rect x="1172" y="128" width="3" height="1" fill="#4f4f4f"/><rect x="1172" y="160" width="3" height="1" fill="#4f4f4f"/><rect x="1172" y="192" width="3" height="1" fill="#4f4f4f"/><rect x="1172" y="224" width="3" height="1" fill="#4f4f4f"/><rect x="1172" y="255" width="3" height="1" fill="#4f4f4f"/><rect x="1172" y="287" width="3" height="1" fill="#4f4f4f"/><rect x="1172" y="319" width="3" height="1" fill="#4f4f4f"/><rect x="1172" y="350" width="3" height="1" fill="#4f4f4f"/><rect x="1172" y="382" width="3" height="1" fill="#4f4f4f"/><rect x="1172" y="414" width="3" height="1" fill="#4f4f4f"/><rect x="1172" y="446" width="3" height="1" fill="#4f4f4f"/><rect x="1172" y="475" width="3" height="1" fill="#4f4f4f"/><rect x="1172" y="505" width="3" height="1" fill="#4f4f4f"/><rect x="1172" y="534" width="3" height="1" fill="#4f4f4f"/><rect x="146" y="547" width="1" height="3" fill="#4f4f4f"/><rect x="293" y="547" width="1" height="3" fill="#4f4f4f"/><rect x="426" y="547" width="1" height="3" fill="#4f4f4f"/><rect x="573" y="547" width="1" height="3" fill="#4f4f4f"/><rect x="706" y="547" width="1" height="3" fill="#4f4f4f"/><rect x="846" y="547" width="1" height="3" fill="#4f4f4f"/><rect x="986" y="547" width="1" height="3" fill="#4f4f4f"/><rect x="1140" y="547" width="1" height="3" fill="#4f4f4f"/></svg>
<div class="pl" style="top:28px">3.600</div>
<div class="pl" style="top:92px">3.400</div>
<div class="pl" style="top:123px">3.300</div>
<div class="pl" style="top:155px">3.200</div>
<div class="pl" style="top:187px">3.100</div>
<div class="pl" style="top:250px">2.900</div>
<div class="pl" style="top:282px">2.800</div>
<div class="pl" style="top:314px">2.700</div>
<div class="pl" style="top:345px">2.600</div>
<div class="pl" style="top:409px">2.400</div>
<div class="pl" style="top:441px">2.300</div>
<div class="pl" style="top:470px">0.1000</div>
<div class="pl" style="top:500px">0.0000</div>
<div class="pl" style="top:529px">-0.1000</div>
<div class="abs" style="left:1171px;top:58px;width:38px;height:16px;background:#000;color:#fff;font-size:11px;letter-spacing:-0.2px;line-height:16px;padding-left:7px">3.500</div>
<div class="abs" style="left:1171px;top:65px;width:3px;height:1px;background:#fff"></div>
<div class="abs" style="left:1171px;top:217px;width:38px;height:16px;background:#000;color:#fff;font-size:11px;letter-spacing:-0.2px;line-height:16px;padding-left:7px">3.000</div>
<div class="abs" style="left:1171px;top:224px;width:3px;height:1px;background:#fff"></div>
<div class="abs" style="left:1171px;top:375px;width:38px;height:16px;background:#000;color:#fff;font-size:11px;letter-spacing:-0.2px;line-height:16px;padding-left:7px">2.500</div>
<div class="abs" style="left:1171px;top:382px;width:3px;height:1px;background:#fff"></div>
<div class="abs" style="left:1171px;top:325px;width:38px;height:16px;background:#e8505f;color:#fff;font-size:11px;letter-spacing:-0.2px;line-height:16px;padding-left:7px">2.659</div>
<div class="tl" style="left:145.6px;">Nov</div>
<div class="tl" style="left:292.5px;">Dec</div>
<div class="tl" style="left:425.6px;font-weight:bold;">2018</div>
<div class="tl" style="left:572.5px;">Feb</div>
<div class="tl" style="left:705.5px;">Mar</div>
<div class="tl" style="left:845.6px;">Apr</div>
<div class="tl" style="left:985.7px;">May</div>
<div class="tl" style="left:1139.9px;">Jun</div>
<div class="tl" style="left:-7.8px;transform:none">Oct</div>
<svg class="abs" style="left:1147px;top:12px" width="20" height="20"><circle cx="9.95" cy="9.95" r="7.2" fill="none" stroke="#f28f45" stroke-width="1.3"/><rect x="9.4" y="5.6" width="1.2" height="5.3" fill="#f28f45"/><rect x="9.4" y="13" width="1.2" height="1.2" fill="#f28f45"/></svg>
<svg class="abs" style="left:6px;top:16px" width="14" height="14"><rect x="0.5" y="0.5" width="12" height="12" rx="1" fill="none" stroke="#5d5a78" stroke-width="1"/><rect x="2" y="6" width="9" height="1" fill="#5d5a78"/></svg>
<div class="lg" style="left:25px;top:15.8px;font-size:16px;letter-spacing:0.2px;color:#444;line-height:18px">Natural Gas, 1D, OANDA</div>
<svg class="abs" style="left:213px;top:22px" width="8" height="5"><path d="M0 0 L7 0 L3.5 4 Z" fill="#c5c5c5"/></svg>
<svg class="abs" style="left:231px;top:18px" width="14" height="14"><rect width="14" height="14" fill="#d9d9d9"/><path d="M2.00 7.00 C4.50 1.60 9.50 1.60 12.00 7.00 C9.50 12.40 4.50 12.40 2.00 7.00 Z" fill="#fff"/><circle cx="7.0" cy="7.0" r="2.70" fill="#d9d9d9"/><circle cx="7.0" cy="7.0" r="1.40" fill="#fff"/></svg>
<svg class="abs" style="left:248px;top:18px" width="14" height="14"><rect width="14" height="14" fill="#d9d9d9"/><circle cx="7.0" cy="7.0" r="2.94" fill="none" stroke="#fff" stroke-width="2.10"/><rect x="5.74" y="1.82" width="2.38" height="2.80" fill="#fff" transform="rotate(0 7.0 7.0)"/><rect x="5.74" y="1.82" width="2.38" height="2.80" fill="#fff" transform="rotate(45 7.0 7.0)"/><rect x="5.74" y="1.82" width="2.38" height="2.80" fill="#fff" transform="rotate(90 7.0 7.0)"/><rect x="5.74" y="1.82" width="2.38" height="2.80" fill="#fff" transform="rotate(135 7.0 7.0)"/><rect x="5.74" y="1.82" width="2.38" height="2.80" fill="#fff" transform="rotate(180 7.0 7.0)"/><rect x="5.74" y="1.82" width="2.38" height="2.80" fill="#fff" transform="rotate(225 7.0 7.0)"/><rect x="5.74" y="1.82" width="2.38" height="2.80" fill="#fff" transform="rotate(270 7.0 7.0)"/><rect x="5.74" y="1.82" width="2.38" height="2.80" fill="#fff" transform="rotate(315 7.0 7.0)"/></svg>
<div class="lg" style="left:270px;top:16px;font-size:15px;line-height:16px"><span style="color:#4a4a4a">O</span><span style="color:#e8414f">2.715</span></div>
<div class="lg" style="left:330px;top:16px;font-size:15px;line-height:16px"><span style="color:#4a4a4a">H</span><span style="color:#e8414f">2.745</span></div>
<div class="lg" style="left:390px;top:16px;font-size:15px;line-height:16px"><span style="color:#4a4a4a">L</span><span style="color:#e8414f">2.638</span></div>
<div class="lg" style="left:448px;top:16px;font-size:15px;line-height:16px"><span style="color:#4a4a4a">C</span><span style="color:#e8414f">2.659</span></div>
<div class="lg" style="left:6px;top:38px;font-size:13px;letter-spacing:-0.42px;color:#555">BB (20, close, 2)</div>
<svg class="abs" style="left:100px;top:43px" width="8" height="5"><path d="M0 0 L7 0 L3.5 4 Z" fill="#c5c5c5"/></svg>
<svg class="abs" style="left:117px;top:39px" width="13.7" height="13.7"><rect width="13.7" height="13.7" fill="#d9d9d9"/><path d="M1.96 6.85 C4.40 1.57 9.30 1.57 11.74 6.85 C9.30 12.13 4.40 12.13 1.96 6.85 Z" fill="#fff"/><circle cx="6.85" cy="6.85" r="2.64" fill="#d9d9d9"/><circle cx="6.85" cy="6.85" r="1.37" fill="#fff"/></svg>
<svg class="abs" style="left:134px;top:39px" width="13.7" height="13.7"><rect width="13.7" height="13.7" fill="#d9d9d9"/><circle cx="6.85" cy="6.85" r="2.88" fill="none" stroke="#fff" stroke-width="2.05"/><rect x="5.62" y="1.78" width="2.33" height="2.74" fill="#fff" transform="rotate(0 6.85 6.85)"/><rect x="5.62" y="1.78" width="2.33" height="2.74" fill="#fff" transform="rotate(45 6.85 6.85)"/><rect x="5.62" y="1.78" width="2.33" height="2.74" fill="#fff" transform="rotate(90 6.85 6.85)"/><rect x="5.62" y="1.78" width="2.33" height="2.74" fill="#fff" transform="rotate(135 6.85 6.85)"/><rect x="5.62" y="1.78" width="2.33" height="2.74" fill="#fff" transform="rotate(180 6.85 6.85)"/><rect x="5.62" y="1.78" width="2.33" height="2.74" fill="#fff" transform="rotate(225 6.85 6.85)"/><rect x="5.62" y="1.78" width="2.33" height="2.74" fill="#fff" transform="rotate(270 6.85 6.85)"/><rect x="5.62" y="1.78" width="2.33" height="2.74" fill="#fff" transform="rotate(315 6.85 6.85)"/></svg>
<svg class="abs" style="left:151px;top:39px" width="13.7" height="13.7"><rect width="13.7" height="13.7" fill="#d9d9d9"/><rect x="5.82" y="2.74" width="2.05" height="8.22" fill="#fff"/><rect x="2.74" y="5.82" width="8.22" height="2.05" fill="#fff"/></svg>
<svg class="abs" style="left:168px;top:39px" width="13.7" height="13.7"><rect width="13.7" height="13.7" fill="#d9d9d9"/><path d="M2.47 2.47 L11.23 11.23 M11.23 2.47 L2.47 11.23" stroke="#fff" stroke-width="1.92"/></svg>
<div class="lg" style="left:190px;top:38px;font-size:12.5px;letter-spacing:-0.65px;color:#8b2525">2.7078</div>
<div class="lg" style="left:234px;top:38px;font-size:12.5px;letter-spacing:-0.65px;color:#1a8080">2.8131</div>
<div class="lg" style="left:278px;top:38px;font-size:12.5px;letter-spacing:-0.65px;color:#1a8080">2.6025</div>
<div class="lg" style="left:6px;top:465px;font-size:13px;letter-spacing:-0.52px;color:#555">MACD (12, 26, close, 9)</div>
<svg class="abs" style="left:137px;top:470px" width="8" height="5"><path d="M0 0 L7 0 L3.5 4 Z" fill="#c5c5c5"/></svg>
<svg class="abs" style="left:154px;top:465px" width="13.7" height="13.7"><rect width="13.7" height="13.7" fill="#d9d9d9"/><path d="M1.96 6.85 C4.40 1.57 9.30 1.57 11.74 6.85 C9.30 12.13 4.40 12.13 1.96 6.85 Z" fill="#fff"/><circle cx="6.85" cy="6.85" r="2.64" fill="#d9d9d9"/><circle cx="6.85" cy="6.85" r="1.37" fill="#fff"/></svg>
<svg class="abs" style="left:171px;top:465px" width="13.7" height="13.7"><rect width="13.7" height="13.7" fill="#d9d9d9"/><circle cx="6.85" cy="6.85" r="2.88" fill="none" stroke="#fff" stroke-width="2.05"/><rect x="5.62" y="1.78" width="2.33" height="2.74" fill="#fff" transform="rotate(0 6.85 6.85)"/><rect x="5.62" y="1.78" width="2.33" height="2.74" fill="#fff" transform="rotate(45 6.85 6.85)"/><rect x="5.62" y="1.78" width="2.33" height="2.74" fill="#fff" transform="rotate(90 6.85 6.85)"/><rect x="5.62" y="1.78" width="2.33" height="2.74" fill="#fff" transform="rotate(135 6.85 6.85)"/><rect x="5.62" y="1.78" width="2.33" height="2.74" fill="#fff" transform="rotate(180 6.85 6.85)"/><rect x="5.62" y="1.78" width="2.33" height="2.74" fill="#fff" transform="rotate(225 6.85 6.85)"/><rect x="5.62" y="1.78" width="2.33" height="2.74" fill="#fff" transform="rotate(270 6.85 6.85)"/><rect x="5.62" y="1.78" width="2.33" height="2.74" fill="#fff" transform="rotate(315 6.85 6.85)"/></svg>
<svg class="abs" style="left:188px;top:465px" width="13.7" height="13.7"><rect width="13.7" height="13.7" fill="#d9d9d9"/><rect x="5.82" y="2.74" width="2.05" height="8.22" fill="#fff"/><rect x="2.74" y="5.82" width="8.22" height="2.05" fill="#fff"/></svg>
<svg class="abs" style="left:205px;top:465px" width="13.7" height="13.7"><rect width="13.7" height="13.7" fill="#d9d9d9"/><path d="M2.47 2.47 L11.23 11.23 M11.23 2.47 L2.47 11.23" stroke="#fff" stroke-width="1.92"/></svg>
<div class="lg" style="left:228px;top:465px;font-size:12.5px;letter-spacing:-0.65px;color:#e0125e">0.0061</div>
<div class="lg" style="left:272px;top:465px;font-size:12.5px;letter-spacing:-0.65px;color:#2f98e0">-0.0317</div>
<div class="lg" style="left:320px;top:465px;font-size:12.5px;letter-spacing:-0.65px;color:#f26b1f">-0.0378</div>
<div class="abs" style="left:0;top:565px;width:1227px;height:22.4px;background:#e3e3e5"></div>
<div class="tb" style="left:20.4px">1d</div>
<div class="tb" style="left:59.2px">5d</div>
<div class="tb" style="left:99.3px">1m</div>
<div class="tb" style="left:139.8px">3m</div>
<div class="tb" style="left:181px">6m</div>
<div class="tb" style="left:225.9px">YTD</div>
<div class="tb" style="left:268.9px">1y</div>
<div class="tb" style="left:307.6px">5y</div>
<div class="tb" style="left:347.8px">All</div>
<div class="tb" style="left:400.5px">Go to...</div>
<div class="sep" style="left:39px"></div>
<div class="sep" style="left:78px"></div>
<div class="sep" style="left:119px"></div>
<div class="sep" style="left:161px"></div>
<div class="sep" style="left:202px"></div>
<div class="sep" style="left:250px"></div>
<div class="sep" style="left:289px"></div>
<div class="sep" style="left:327px"></div>
<div class="sep" style="left:368px"></div>
<div class="tb" style="left:970px">19:53:58 (UTC)</div>
<div class="tb" style="left:1043px;color:#858585">ext</div>
<div class="tb" style="left:1081.5px;color:#858585">%</div>
<div class="tb" style="left:1120px;color:#858585">log</div>
<div class="tb" style="left:1166px;color:#3d9fe8">auto</div>
<div class="sep" style="left:1021px"></div>
<div class="sep" style="left:1065px"></div>
<div class="sep" style="left:1099px"></div>
<div class="sep" style="left:1141px"></div>
<div class="sep" style="left:1190px"></div>
<svg class="abs" style="left:1203.7px;top:568.6px" width="15" height="15"><circle cx="7.5" cy="7.5" r="3.6" fill="none" stroke="#857c7c" stroke-width="1.9"/><rect x="6.4" y="1.5" width="2.2" height="2.6" fill="#857c7c" transform="rotate(0 7.5 7.5)"/><rect x="6.4" y="1.5" width="2.2" height="2.6" fill="#857c7c" transform="rotate(45 7.5 7.5)"/><rect x="6.4" y="1.5" width="2.2" height="2.6" fill="#857c7c" transform="rotate(90 7.5 7.5)"/><rect x="6.4" y="1.5" width="2.2" height="2.6" fill="#857c7c" transform="rotate(135 7.5 7.5)"/><rect x="6.4" y="1.5" width="2.2" height="2.6" fill="#857c7c" transform="rotate(180 7.5 7.5)"/><rect x="6.4" y="1.5" width="2.2" height="2.6" fill="#857c7c" transform="rotate(225 7.5 7.5)"/><rect x="6.4" y="1.5" width="2.2" height="2.6" fill="#857c7c" transform="rotate(270 7.5 7.5)"/><rect x="6.4" y="1.5" width="2.2" height="2.6" fill="#857c7c" transform="rotate(315 7.5 7.5)"/></svg>
<div class="abs" style="left:0;top:587.4px;width:1227px;height:36.6px;background:#e9edf0"></div>
<div class="abs" style="left:0;top:624px;width:1227px;height:1px;background:#d5d9dc"></div>
<div class="abs" style="left:0;top:625px;width:1227px;height:8px;background:#fff"></div>
<div class="tab" style="left:0px;width:105px;background:#fff;color:#3d9fe8;height:39px;border-right:none;padding-left:1px">Screener</div>
<div class="tab" style="left:105px;width:106px">Text Notes</div>
<div class="tab" style="left:210px;width:106px">Pine Editor</div>
<div class="tab" style="left:315px;width:106px">Strategy Tester</div>
<div class="tab" style="left:420px;width:106.5px">Trading Panel</div>
<div class="abs" style="left:602px;top:620px;width:28px;height:9px;background:#fff;border:1px solid #d5d9dc;border-radius:5px"></div>
<svg class="abs" style="left:611px;top:622.5px" width="10" height="5"><path d="M1 1 L5 3 L9 1" fill="none" stroke="#5aa9b0" stroke-width="0.9"/></svg>
<svg class="abs" style="left:1006px;top:596px" width="24" height="20"><rect x="2" y="4.8" width="19.7" height="12.8" rx="1.8" fill="#5d5a76"/><rect x="8" y="2.2" width="8.3" height="4" rx="1.2" fill="#5d5a76"/><circle cx="11.8" cy="11.2" r="4.3" fill="#eef0f3"/><circle cx="11.8" cy="11.2" r="2.3" fill="#5d5a76"/></svg>
<div class="abs" style="left:1040px;top:592px;width:156px;height:29px;background:#3aa3ee;border-radius:2px 0 0 2px;color:#fff;font-size:13.5px;line-height:29px;text-align:center"><span style="display:inline-block;transform:scaleX(0.87);margin-left:2px">PUBLISH IDEA</span></div>
<div class="abs" style="left:1197px;top:592px;width:30px;height:29px;background:#3aa3ee"></div>
<svg class="abs" style="left:1203px;top:595px" width="24" height="24"><circle cx="12" cy="11.5" r="9" fill="none" stroke="#fff" stroke-width="2"/><path d="M9.5 7.3 L15.8 11.5 L9.5 15.8 Z" fill="#fff"/></svg>
<div class="abs" style="left:1203.5px;top:628px;width:16px;height:16px;border-radius:8px;background:#3aa3ee"></div>
<div class="abs" style="left:0;top:3px;width:1px;height:585px;background:#d2d4d6"></div>
</body></html>
